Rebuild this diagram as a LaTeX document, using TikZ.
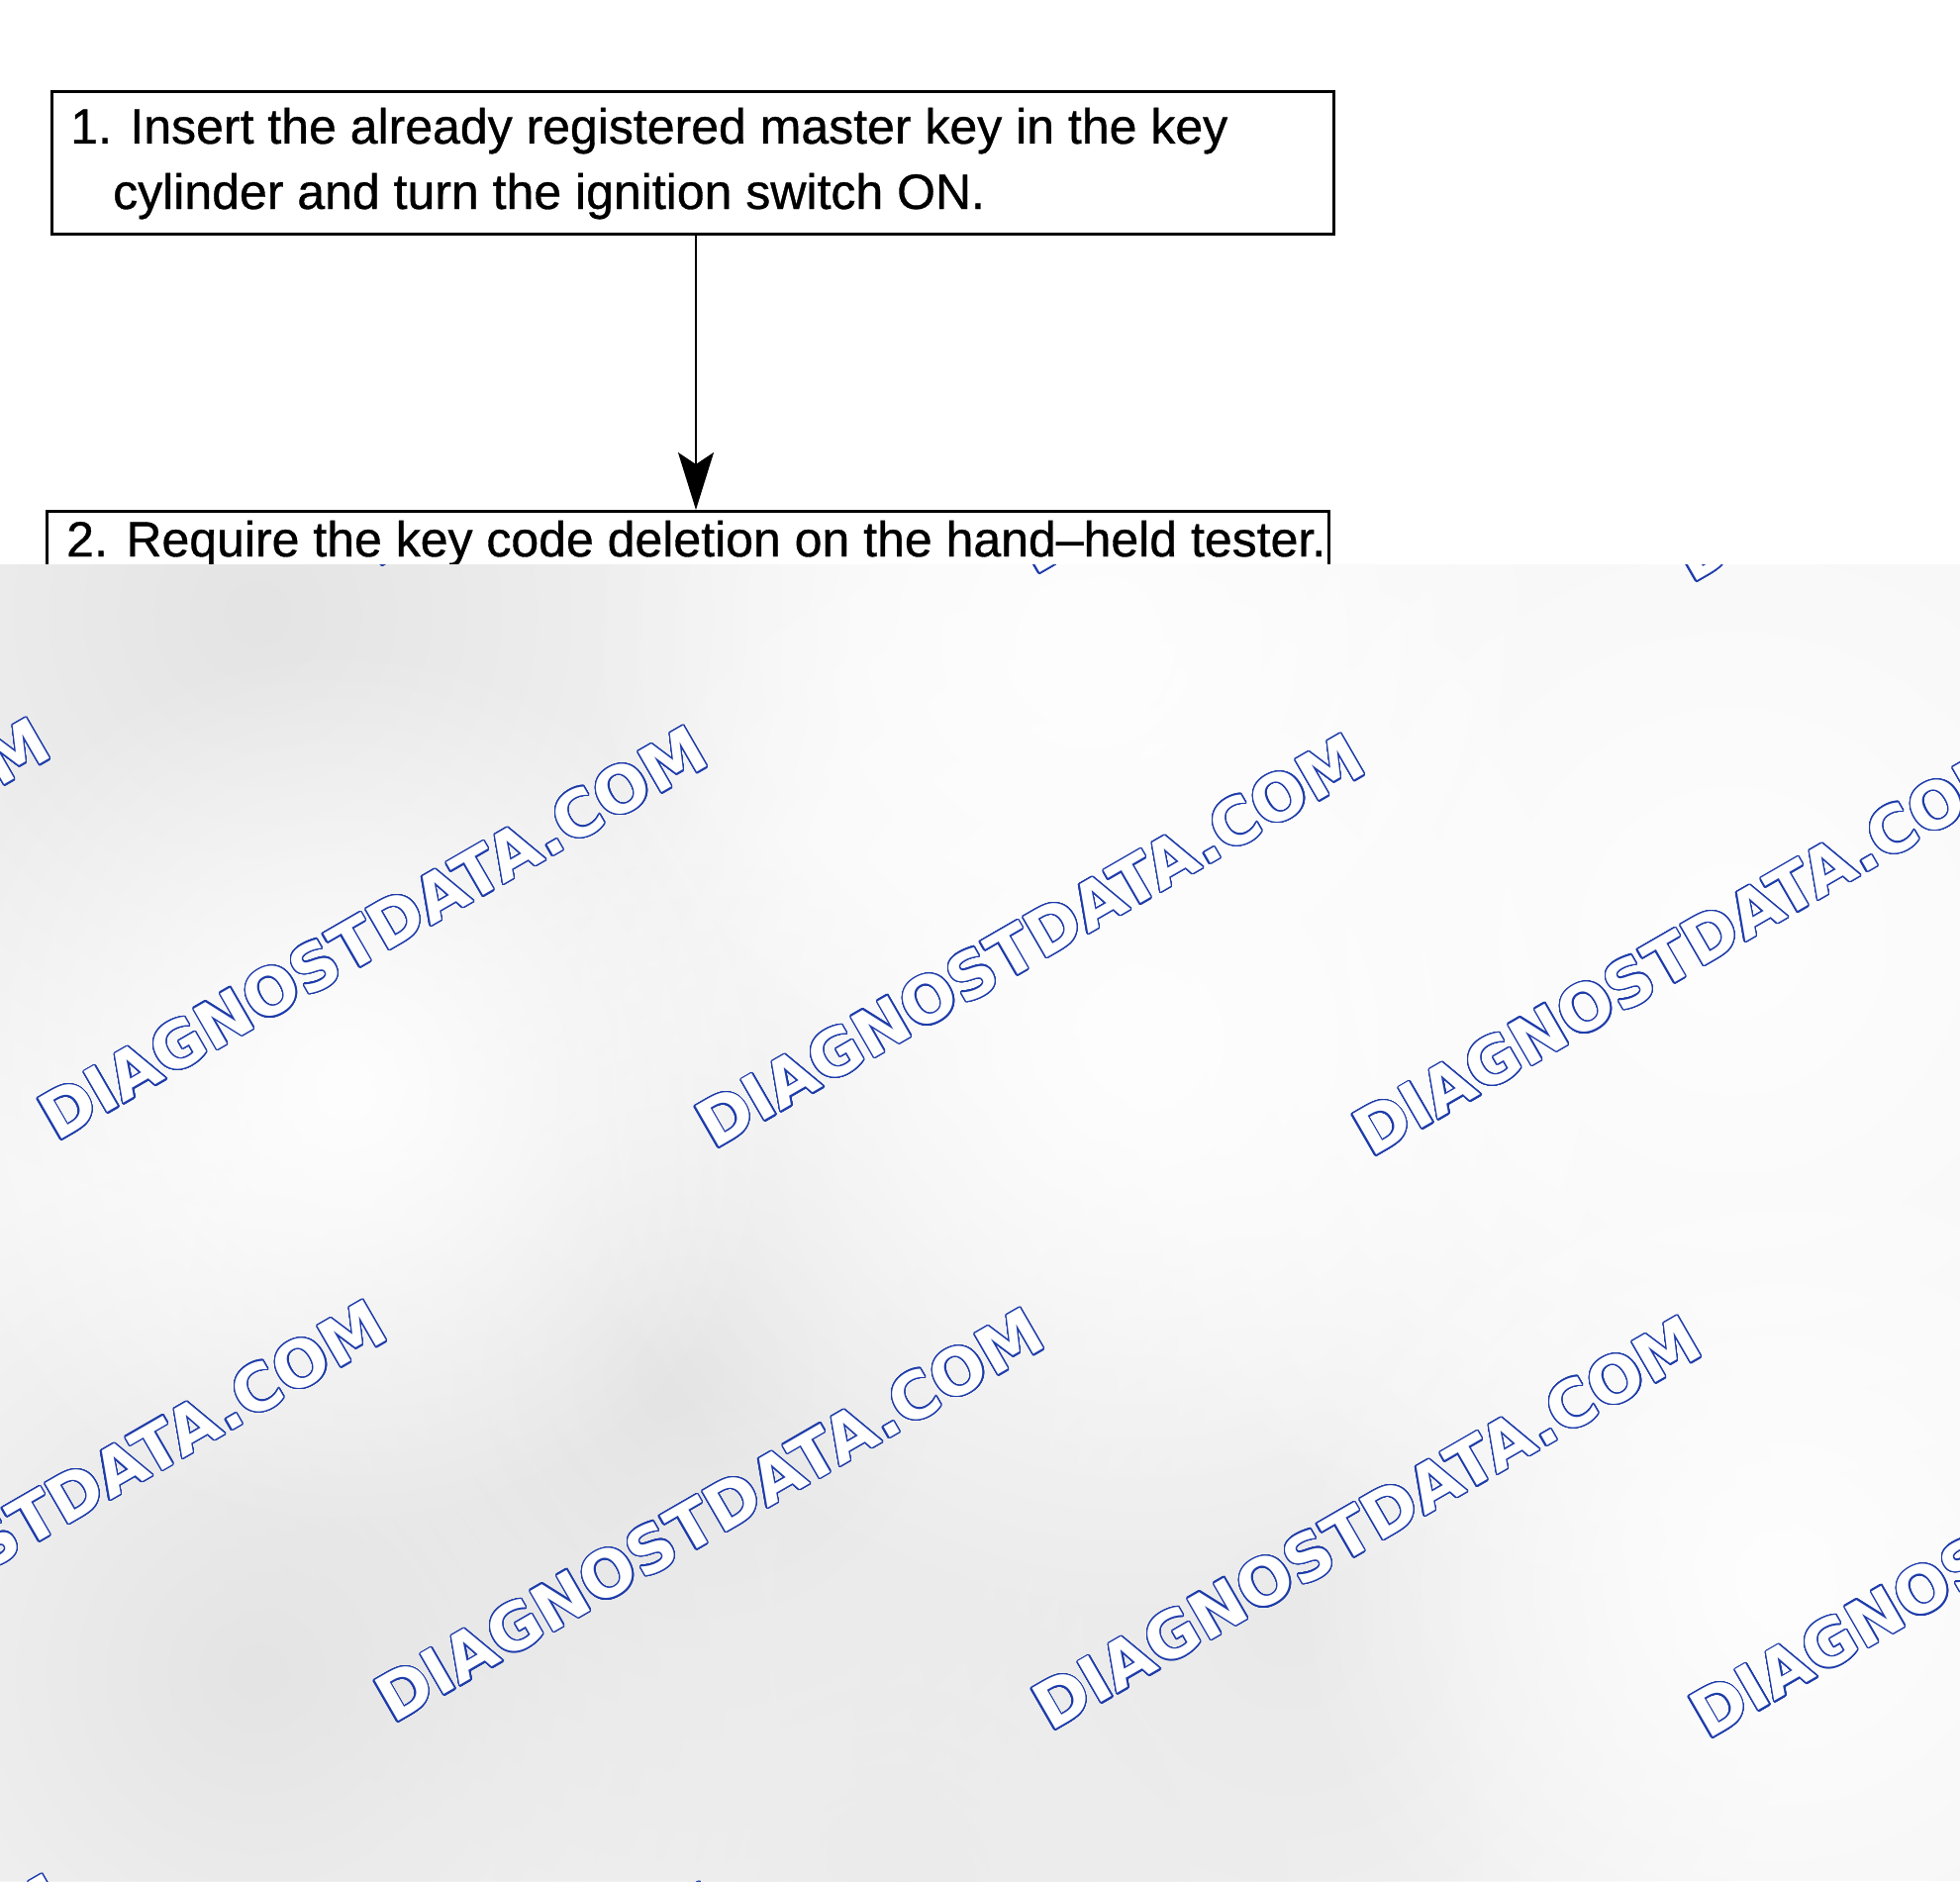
\documentclass[tikz,border=0pt]{standalone}
\usepackage{fontspec}
\setmainfont{Liberation Sans}
\newfontfamily\wmfont{DejaVu Sans}
\usepackage{contour}
\usetikzlibrary{arrows.meta,fadings}
\definecolor{wmblue}{RGB}{30,60,170}
\definecolor{bggray}{RGB}{245,245,245}
\definecolor{blobgray}{RGB}{228,228,228}
\definecolor{lightgray2}{RGB}{254,254,254}
\contourlength{1.3pt}
\contournumber{32}
\tikzfading[name=blobfade, inner color=transparent!0, outer color=transparent!100]
\begin{document}
\begin{tikzpicture}[x=1pt,y=-1pt,
  stepbox/.style={draw=black, line width=3pt, inner sep=0pt, fill=white},
  steptext/.style={anchor=base west, inner sep=0pt, font=\fontsize{50}{60}\selectfont\addfontfeature{FakeBold=0.7}},
  flowarrow/.style={draw=black, line width=2pt, -{Stealth[length=58pt,width=36pt,inset=12pt]}},
  wmark/.style={anchor=base west, inner sep=0pt, rotate=30, text=white, font=\wmfont\fontsize{65}{70}\selectfont\bfseries},
  blob/.style={path fading=blobfade}]
\useasboundingbox (0,0) rectangle (1980,1900);
\fill[white] (0,0) rectangle (1980,1900);
% step boxes
\node[stepbox, anchor=north west, minimum width=1295.5pt, minimum height=144pt] (box1) at (50.5,91) {};
\node[steptext] (t1a) at (71,145) {1. Insert the already registered master key in the key};
\node[steptext] (t1b) at (114,211) {cylinder and turn the ignition switch ON.};
\node[stepbox, anchor=north west, minimum width=1295.5pt, minimum height=100pt] (box2) at (45.5,515) {};
\node[steptext] (t2a) at (67,562) {2. Require the key code deletion on the hand--held tester.};
% connector
\coordinate (ax) at (703,0);
\draw[flowarrow] (box1.south -| ax) -- (box2.north -| ax);
% grey blurred overlay
\fill[bggray] (0,570) rectangle (1980,1900);
\begin{scope}
\clip (0,570) rectangle (1980,1900);
\fill[blobgray, blob] (260,620) circle (600);
\fill[blobgray, blob] (700,1390) circle (520);
\fill[blobgray, blob] (260,1690) circle (520);
\fill[blobgray!70!bggray, blob] (1300,1640) circle (520);
\fill[blobgray!60!bggray, blob] (900,1900) circle (600);
\fill[lightgray2, blob] (1750,950) circle (700);
\fill[lightgray2, blob] (1150,1050) circle (600);
\fill[lightgray2, blob] (1100,650) circle (520);
\fill[lightgray2, blob] (350,1100) circle (450);
\fill[lightgray2, blob] (1800,1600) circle (500);
\foreach \r in {-1,0,1,2,3}{
  \foreach \k in {-2,-1,0,1,2,3}{
    \node[wmark] (wm\r\k) at ({57+\k*664+\r*340},{1154+\k*8+\r*588}) {\contour{wmblue}{DIAGNOSTDATA.COM}};
  }
}
\end{scope}
\end{tikzpicture}
\end{document}
